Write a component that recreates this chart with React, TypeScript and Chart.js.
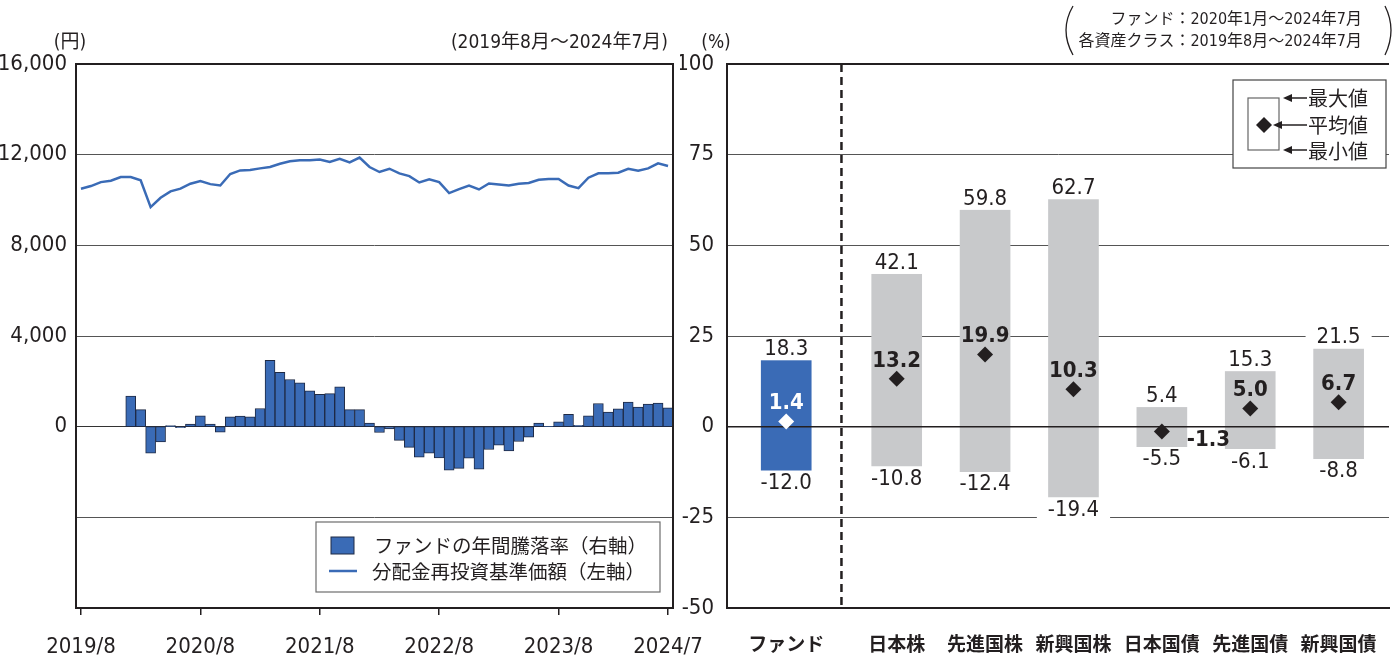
import React, { useEffect, useRef } from 'react';
import { Chart, registerables } from 'chart.js';

Chart.register(...registerables);

const FONT = "'Liberation Sans Narrow', 'DejaVu Sans Condensed', 'Noto Sans CJK JP', sans-serif";
const JFONT = "'Noto Sans CJK JP', sans-serif";
const INK = '#231f20';
const BLUE = '#3a6bb6';
const GRAY = '#c8c9cb';
const GRID = '#555555';

// ---- Left chart data (2019/8 - 2024/7, monthly) ----
const startYear = 2019;
const startMonth = 8;
const monthCount = 60;
const monthLabels = Array.from({ length: monthCount }, (_, i) => {
  const m = startMonth - 1 + i;
  return `${startYear + Math.floor(m / 12)}/${(m % 12) + 1}`;
});
const xTickIndices = [0, 12, 24, 36, 48, 59];

// 分配金再投資基準価額 (円)
const navValues = [
  10500, 10615, 10790, 10850, 11010, 11010, 10870, 9685, 10100, 10380,
  10500, 10720, 10835, 10700, 10640, 11145, 11305, 11320, 11395, 11455,
  11600, 11705, 11750, 11750, 11790, 11675, 11820, 11660, 11870, 11455,
  11235, 11380, 11175, 11055, 10775, 10910, 10790, 10305, 10480, 10640,
  10465, 10730, 10685, 10640, 10720, 10750, 10895, 10925, 10925, 10640,
  10525, 10985, 11175, 11175, 11205, 11380, 11290, 11395, 11615, 11500,
];

// ファンドの年間騰落率 (%)
const annualReturns = [
  null, null, null, null, null, 8.4, 4.7, -7.3, -4.2, 0.3,
  -0.3, 0.7, 3.0, 0.7, -1.5, 2.7, 2.9, 2.7, 5.0, 18.3,
  15.0, 13.0, 12.1, 9.9, 8.9, 9.1, 11.0, 4.7, 4.7, 1.0,
  -1.6, -0.6, -3.8, -5.7, -8.4, -7.3, -8.6, -12.0, -11.5, -8.7,
  -11.7, -6.3, -5.1, -6.7, -4.1, -2.9, 1.0, 0.1, 1.3, 3.4,
  0.4, 3.0, 6.4, 4.0, 4.9, 6.8, 5.4, 6.2, 6.5, 5.2,
];

// ---- Right chart data ----
const assetClasses = ['ファンド', '日本株', '先進国株', '新興国株', '日本国債', '先進国債', '新興国債'];
const assetPositions = [0, 1.25, 2.25, 3.25, 4.25, 5.25, 6.25];
const maxValues = [18.3, 42.1, 59.8, 62.7, 5.4, 15.3, 21.5];
const avgValues = [1.4, 13.2, 19.9, 10.3, -1.3, 5.0, 6.7];
const minValues = [-12.0, -10.8, -12.4, -19.4, -5.5, -6.1, -8.8];

const LEFT_W = 712;
const LEFT_PLOT_RIGHT = 673;
const RIGHT_X = 680;
const RIGHT_W = 1397 - RIGHT_X;

const leftDecor = {
  id: 'leftDecor',
  afterDraw(chart: any) {
    const { ctx, chartArea: a } = chart;
    ctx.save();
    ctx.strokeStyle = INK;
    ctx.lineWidth = 2;
    ctx.strokeRect(a.left, a.top, a.right - a.left, a.bottom - a.top);

    ctx.fillStyle = INK;
    ctx.textBaseline = 'middle';
    ctx.font = `19px ${FONT}`;
    ctx.textAlign = 'center';
    ctx.fillText('(円)', a.left - 6, a.top - 21);
    ctx.textAlign = 'right';
    ctx.fillText('(2019年8月～2024年7月)', a.right - 5, a.top - 21);

    // legend
    const bx = 316, by = 522, bw = 344, bh = 70;
    ctx.fillStyle = '#fff';
    ctx.fillRect(bx, by, bw, bh);
    ctx.strokeStyle = '#6d6d6d';
    ctx.lineWidth = 1.2;
    ctx.strokeRect(bx, by, bw, bh);
    ctx.fillStyle = BLUE;
    ctx.fillRect(331, 537, 23, 17);
    ctx.strokeStyle = '#1f2a44';
    ctx.lineWidth = 1;
    ctx.strokeRect(331, 537, 23, 17);
    ctx.strokeStyle = BLUE;
    ctx.lineWidth = 2.5;
    ctx.beginPath();
    ctx.moveTo(329, 571);
    ctx.lineTo(357, 571);
    ctx.stroke();
    ctx.fillStyle = INK;
    ctx.textAlign = 'left';
    ctx.font = `19.5px ${JFONT}`;
    ctx.fillText('ファンドの年間騰落率（右軸）', 374, 546);
    ctx.fillText('分配金再投資基準価額（左軸）', 372, 572);
    ctx.restore();
  },
};

function textWithBg(ctx: any, text: string, x: number, y: number) {
  const w = ctx.measureText(text).width;
  ctx.fillStyle = '#fff';
  ctx.fillRect(x - w / 2 - 11, y - 11, w + 22, 22);
  ctx.fillStyle = INK;
  ctx.fillText(text, x, y);
}

function arrowLeft(ctx: any, x1: number, x2: number, y: number) {
  ctx.beginPath();
  ctx.moveTo(x1 + 6, y);
  ctx.lineTo(x2, y);
  ctx.stroke();
  ctx.beginPath();
  ctx.moveTo(x1, y);
  ctx.lineTo(x1 + 9, y - 4);
  ctx.lineTo(x1 + 9, y + 4);
  ctx.closePath();
  ctx.fill();
}

const rightDecor = {
  id: 'rightDecor',
  afterDatasetDraw(chart: any, args: any) {
    if (args.index !== 0) return;
    const { ctx, chartArea: a, scales } = chart;
    const xs = scales.x, ys = scales.y;
    ctx.save();
    const y0 = ys.getPixelForValue(0);
    ctx.strokeStyle = INK;
    ctx.lineWidth = 1.5;
    ctx.beginPath();
    ctx.moveTo(a.left, y0);
    ctx.lineTo(a.right, y0);
    ctx.stroke();
    const xd = xs.getPixelForValue((assetPositions[0] + assetPositions[1]) / 2);
    ctx.setLineDash([8, 5]);
    ctx.lineWidth = 2.5;
    ctx.beginPath();
    ctx.moveTo(xd, a.top);
    ctx.lineTo(xd, a.bottom);
    ctx.stroke();
    ctx.restore();
  },
  afterDatasetsDraw(chart: any) {
    const { ctx, scales } = chart;
    const xs = scales.x, ys = scales.y;
    ctx.save();
    ctx.textBaseline = 'middle';
    ctx.textAlign = 'center';
    assetPositions.forEach((pos, i) => {
      const xp = xs.getPixelForValue(pos);
      const top = ys.getPixelForValue(maxValues[i]);
      const bot = ys.getPixelForValue(minValues[i]);
      const ya = ys.getPixelForValue(avgValues[i]);
      ctx.font = `22px ${FONT}`;
      ctx.textAlign = 'center';
      textWithBg(ctx, maxValues[i].toFixed(1), xp, top - 11);
      textWithBg(ctx, minValues[i].toFixed(1), xp, bot + 13);
      ctx.font = `bold 22px ${FONT}`;
      ctx.fillStyle = i === 0 ? '#ffffff' : INK;
      if (bot - top < 60) {
        ctx.textAlign = 'left';
        ctx.fillText(avgValues[i].toFixed(1), xp + 25, ya + 9);
      } else {
        ctx.textAlign = 'center';
        ctx.fillText(avgValues[i].toFixed(1), xp, ya - 18);
      }
    });
    ctx.restore();
  },
  afterDraw(chart: any) {
    const { ctx, chartArea: a } = chart;
    ctx.save();
    ctx.fillStyle = INK;
    ctx.strokeStyle = INK;
    ctx.textBaseline = 'middle';
    ctx.font = `19px ${FONT}`;
    ctx.textAlign = 'center';
    ctx.fillText('(%)', a.left - 11, a.top - 21);

    // period note
    ctx.font = `16px ${FONT}`;
    ctx.textAlign = 'right';
    ctx.fillText('ファンド：2020年1月～2024年7月', 682, 20);
    ctx.fillText('各資産クラス：2019年8月～2024年7月', 682, 42);
    ctx.lineWidth = 1.3;
    ctx.beginPath();
    ctx.moveTo(393, 6);
    ctx.quadraticCurveTo(379, 30, 393, 55);
    ctx.stroke();
    ctx.beginPath();
    ctx.moveTo(705, 6);
    ctx.quadraticCurveTo(717, 30, 705, 55);
    ctx.stroke();

    // legend box
    const bx = 553, by = 80, bw = 153, bh = 88;
    ctx.fillStyle = '#fff';
    ctx.fillRect(bx, by, bw, bh);
    ctx.strokeStyle = '#444';
    ctx.lineWidth = 1.2;
    ctx.strokeRect(bx, by, bw, bh);
    ctx.strokeStyle = '#666';
    ctx.strokeRect(568, 98, 31, 52);
    ctx.fillStyle = INK;
    ctx.beginPath();
    ctx.moveTo(584, 117);
    ctx.lineTo(592, 125);
    ctx.lineTo(584, 133);
    ctx.lineTo(576, 125);
    ctx.closePath();
    ctx.fill();
    ctx.strokeStyle = INK;
    ctx.lineWidth = 1.5;
    arrowLeft(ctx, 603, 627, 98);
    arrowLeft(ctx, 593, 627, 125);
    arrowLeft(ctx, 603, 627, 150);
    ctx.font = `20px ${JFONT}`;
    ctx.textAlign = 'left';
    ctx.fillText('最大値', 628, 98);
    ctx.fillText('平均値', 628, 125);
    ctx.fillText('最小値', 628, 151);
    ctx.restore();
  },
};

function leftConfig(): any {
  return {
    type: 'bar',
    data: {
      labels: monthLabels,
      datasets: [
        {
          type: 'line',
          label: '分配金再投資基準価額（左軸）',
          data: navValues,
          yAxisID: 'y',
          borderColor: BLUE,
          borderWidth: 2.5,
          pointRadius: 0,
          tension: 0,
          order: 0,
        },
        {
          type: 'bar',
          label: 'ファンドの年間騰落率（右軸）',
          data: annualReturns,
          yAxisID: 'y1',
          backgroundColor: BLUE,
          borderColor: '#1f2a44',
          borderWidth: 1,
          borderSkipped: false,
          categoryPercentage: 1,
          barPercentage: 1,
          order: 1,
        },
      ],
    },
    options: {
      responsive: false,
      animation: false,
      layout: { padding: { top: 64, right: LEFT_W - LEFT_PLOT_RIGHT, left: 0, bottom: 0 } },
      plugins: { legend: { display: false }, tooltip: { enabled: false } },
      scales: {
        x: {
          type: 'category',
          offset: true,
          grid: {
            display: true,
            drawOnChartArea: false,
            drawTicks: true,
            tickLength: 7,
            color: INK,
            lineWidth: 1.5,
            offset: false,
          },
          border: { display: false },
          ticks: {
            autoSkip: false,
            maxRotation: 0,
            padding: 19,
            color: INK,
            font: { family: FONT, size: 22 },
          },
          afterBuildTicks: (s: any) => {
            s.ticks = xTickIndices.map((v) => ({ value: v }));
          },
          afterFit: (s: any) => {
            s.height = 47;
            s.paddingLeft = 0;
            s.paddingRight = 0;
          },
        },
        y: {
          min: -8000,
          max: 16000,
          ticks: {
            stepSize: 4000,
            padding: 9,
            color: INK,
            font: { family: FONT, size: 22 },
            callback: (v: number) => (v >= 0 ? v.toLocaleString('en-US') : ''),
          },
          grid: {
            drawTicks: false,
            color: (c: any) => {
              const v = c.tick && c.tick.value;
              if (v === 16000 || v === -8000) return 'rgba(0,0,0,0)';
              if (v === 0) return '#333';
              return GRID;
            },
            lineWidth: 1,
          },
          border: { display: false },
          afterFit: (s: any) => {
            s.width = 76;
          },
        },
        y1: { display: false, min: -50, max: 100 },
      },
    },
    plugins: [leftDecor],
  };
}

function rightConfig(): any {
  return {
    type: 'bar',
    data: {
      datasets: [
        {
          type: 'bar',
          data: assetPositions.map((x, i) => ({ x, y: [minValues[i], maxValues[i]] })),
          backgroundColor: assetPositions.map((_, i) => (i === 0 ? BLUE : GRAY)),
          borderWidth: 0,
          barThickness: 50,
          order: 2,
        },
        {
          type: 'line',
          data: assetPositions.map((x, i) => ({ x, y: avgValues[i] })),
          showLine: false,
          pointStyle: 'rectRot',
          pointRadius: 8,
          pointBorderWidth: 0,
          pointBackgroundColor: assetPositions.map((_, i) => (i === 0 ? '#ffffff' : INK)),
          order: 1,
        },
      ],
    },
    options: {
      responsive: false,
      animation: false,
      layout: { padding: { top: 64, right: 0, left: 0, bottom: 0 } },
      plugins: { legend: { display: false }, tooltip: { enabled: false } },
      scales: {
        x: {
          type: 'linear',
          offset: false,
          min: -0.67,
          max: 6.82,
          grid: { display: false },
          border: { display: true, color: INK, width: 2 },
          ticks: {
            autoSkip: false,
            maxRotation: 0,
            padding: 16,
            color: INK,
            font: { family: JFONT, size: 19, weight: 'bold' },
            callback: (v: number) => {
              const i = assetPositions.indexOf(v);
              return i >= 0 ? assetClasses[i] : '';
            },
          },
          afterBuildTicks: (s: any) => {
            s.ticks = assetPositions.map((v) => ({ value: v }));
          },
          afterFit: (s: any) => {
            s.height = 47;
          },
        },
        y: {
          min: -50,
          max: 100,
          ticks: {
            stepSize: 25,
            padding: 13,
            color: INK,
            font: { family: FONT, size: 22 },
          },
          grid: {
            drawTicks: false,
            color: (c: any) => {
              const v = c.tick && c.tick.value;
              if (v === 0 || v === -50) return 'rgba(0,0,0,0)';
              if (v === 100) return INK;
              return GRID;
            },
            lineWidth: (c: any) => (c.tick && c.tick.value === 100 ? 2 : 1),
          },
          border: { display: true, color: INK, width: 2 },
          afterFit: (s: any) => {
            s.width = 47;
          },
        },
      },
    },
    plugins: [rightDecor],
  };
}

export default function App() {
  const leftRef = useRef<HTMLCanvasElement>(null);
  const rightRef = useRef<HTMLCanvasElement>(null);
  useEffect(() => {
    const c1 = new Chart(leftRef.current as HTMLCanvasElement, leftConfig());
    const c2 = new Chart(rightRef.current as HTMLCanvasElement, rightConfig());
    return () => {
      c1.destroy();
      c2.destroy();
    };
  }, []);
  return (
    <div style={{ position: 'absolute', left: 0, top: 0, width: 1397, height: 655, background: '#fff' }}>
      <canvas
        ref={leftRef}
        width={LEFT_W}
        height={655}
        style={{ position: 'absolute', left: 0, top: 0, width: LEFT_W, height: 655 }}
      />
      <canvas
        ref={rightRef}
        width={RIGHT_W}
        height={655}
        style={{ position: 'absolute', left: RIGHT_X, top: 0, width: RIGHT_W, height: 655 }}
      />
    </div>
  );
}
